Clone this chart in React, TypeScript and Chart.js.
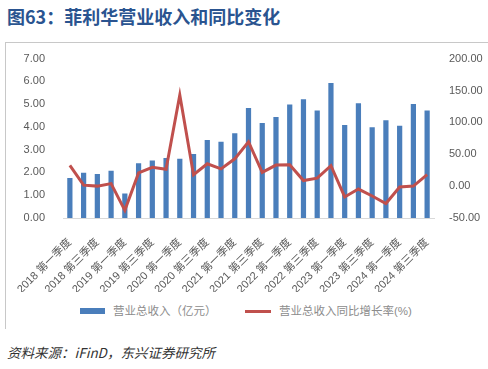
import React, { useEffect, useRef } from "react";
import { Chart, registerables } from "chart.js";

Chart.register(...registerables);

const years = ["2018", "2019", "2020", "2021", "2022", "2023", "2024"];
const quarters = ["第一季度", "第二季度", "第三季度", "第四季度"];
const categories: string[] = [];
years.forEach((y) => quarters.forEach((q) => categories.push(`${y} ${q}`)));
categories.splice(27);

const revenue = [
  1.76, 1.99, 1.93, 2.08, 1.08, 2.4, 2.53, 2.63, 2.6, 2.81, 3.42, 3.35, 3.72, 4.83,
  4.17, 4.43, 4.98, 5.21, 4.72, 5.93, 4.08, 5.04, 3.98, 4.29, 4.05, 5.01, 4.72,
];
const yoy = [
  32.5, 1.5, 0, 4, -38, 20.6, 29.4, 26.3, 143, 18, 35, 27, 42.8, 69.6,
  21.6, 33, 33.5, 8.8, 12.4, 32, -17, -4.6, -15.5, -27.3, -1.5, 0, 18,
];
const leftTicks = { min: 0, max: 7, step: 1 };
const rightTicks = { min: -50, max: 200, step: 50 };

const FONT = "'Liberation Sans', 'Noto Sans CJK SC', sans-serif";

export default function App() {
  const ref = useRef<HTMLCanvasElement | null>(null);

  useEffect(() => {
    if (!ref.current) return;
    const chart = new Chart(ref.current, {
      type: "bar",
      data: {
        labels: categories,
        datasets: [
          {
            type: "line",
            label: "营业总收入同比增长率(%)",
            data: yoy,
            yAxisID: "y1",
            borderColor: "#C0504D",
            backgroundColor: "#C0504D",
            borderWidth: 3,
            pointRadius: 0,
            tension: 0,
            order: 0,
          },
          {
            type: "bar",
            label: "营业总收入（亿元）",
            data: revenue,
            yAxisID: "y",
            backgroundColor: "#4A7EBB",
            categoryPercentage: 1,
            barPercentage: 0.38,
            order: 1,
          },
        ],
      },
      options: {
        animation: false,
        responsive: false,
        layout: { padding: { top: 15, left: 0, right: 0, bottom: 0 } },
        plugins: { legend: { display: false }, tooltip: { enabled: false } },
        scales: {
          x: {
            grid: { display: false },
            border: { display: true, color: "#D9D9D9", width: 1 },
            ticks: {
              autoSkip: false,
              minRotation: 45,
              maxRotation: 45,
              padding: 10,
              color: "#595959",
              font: { family: FONT, size: 11 },
              callback: (_v: any, i: number) => (i % 2 === 0 ? categories[i] : ""),
            },
            afterFit: (s: any) => {
              s.height = 74;
            },
          },
          y: {
            position: "left",
            min: leftTicks.min,
            max: leftTicks.max,
            grid: { display: false },
            border: { display: false },
            ticks: {
              stepSize: leftTicks.step,
              padding: 10,
              color: "#595959",
              font: { family: FONT, size: 11 },
              callback: (v: any) => Number(v).toFixed(2),
            },
            afterFit: (s: any) => {
              s.width = 63;
            },
          },
          y1: {
            position: "right",
            min: rightTicks.min,
            max: rightTicks.max,
            grid: { display: false },
            border: { display: false },
            ticks: {
              stepSize: rightTicks.step,
              padding: 7,
              color: "#595959",
              font: { family: FONT, size: 11 },
              callback: (v: any) => Number(v).toFixed(2),
            },
            afterFit: (s: any) => {
              s.width = 54;
            },
          },
        },
      },
    } as any);
    return () => chart.destroy();
  }, []);

  return (
    <div
      style={{
        position: "fixed",
        left: 0,
        top: 0,
        width: 488,
        height: 369,
        background: "#fff",
        overflow: "hidden",
        fontFamily: FONT,
      }}
    >
      <div
        style={{
          position: "absolute",
          left: 7,
          top: 5,
          fontSize: 18,
          fontWeight: "bold",
          color: "#2A5490",
          whiteSpace: "nowrap",
          fontFamily: "'Noto Sans CJK SC', sans-serif",
          lineHeight: "22px",
        }}
      >
        图63：菲利华营业收入和同比变化
      </div>
      <div
        style={{
          position: "absolute",
          left: 5,
          top: 42,
          width: 490,
          height: 286,
          borderTop: "1px solid #C8C8C8",
          borderLeft: "1px solid #C8C8C8",
        }}
      />
      <canvas
        ref={ref}
        width={488}
        height={250}
        style={{ position: "absolute", left: 0, top: 42, width: 488, height: 250 }}
      />
      <div style={{ position: "absolute", left: 80, top: 308, width: 25, height: 6, background: "#4A7EBB" }} />
      <div
        style={{
          position: "absolute",
          left: 113,
          top: 303,
          fontSize: 11.5,
          lineHeight: "16px",
          color: "#8C8C8C",
          whiteSpace: "nowrap",
        }}
      >
        营业总收入（亿元）
      </div>
      <div style={{ position: "absolute", left: 245, top: 310, width: 26, height: 3, background: "#C0504D" }} />
      <div
        style={{
          position: "absolute",
          left: 279,
          top: 303,
          fontSize: 11.5,
          lineHeight: "16px",
          color: "#8C8C8C",
          whiteSpace: "nowrap",
        }}
      >
        营业总收入同比增长率(%)
      </div>
      <div
        style={{
          position: "absolute",
          left: 7,
          top: 343,
          fontSize: 13.5,
          lineHeight: "18px",
          fontStyle: "italic",
          color: "#333",
          whiteSpace: "nowrap",
          fontFamily: "'Noto Sans CJK SC', sans-serif",
        }}
      >
        资料来源：iFinD，东兴证券研究所
      </div>
    </div>
  );
}
